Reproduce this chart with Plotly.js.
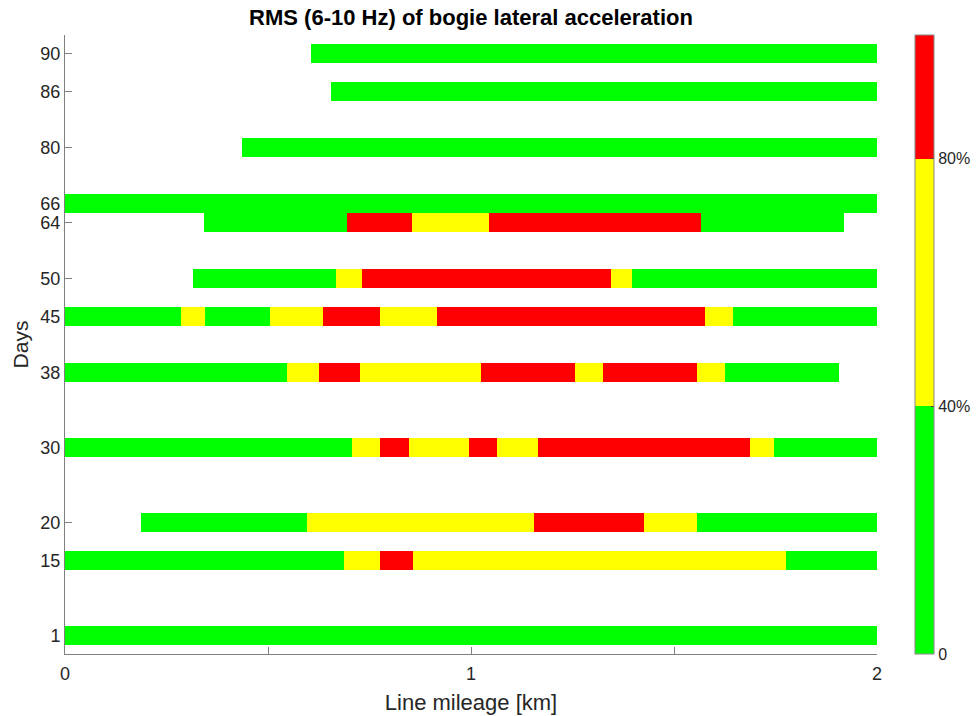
<!DOCTYPE html>
<html>
<head>
<meta charset="utf-8">
<script src="https://cdn.plot.ly/plotly-3.0.1.min.js"></script>
<style>html,body{margin:0;padding:0;background:#fff;}#chart{width:978px;height:716px;}</style>
</head>
<body>
<div id="chart"></div>
<script>
// Day labels (tick text) and their row slots on the y axis
const dayLabels = ['1', '15', '20', '30', '38', '45', '50', '64', '66', '80', '86', '90'];
const rowSlot   = [0, 4, 6, 10, 14, 17, 19, 22, 23, 26, 29, 31];

// Segment break points along line mileage [km] for each row (same order as dayLabels)
const rowBreaks = [
  [0, 2],                                                             // 1
  [0, 0.686, 0.776, 0.856, 1.776, 2],                                 // 15
  [0.187, 0.596, 1.155, 1.425, 1.556, 2],                             // 20
  [0, 0.706, 0.776, 0.847, 0.996, 1.065, 1.166, 1.686, 1.746, 2],     // 30
  [0, 0.546, 0.625, 0.726, 1.025, 1.257, 1.326, 1.556, 1.626, 1.906], // 38
  [0, 0.285, 0.346, 0.506, 0.635, 0.776, 0.916, 1.576, 1.646, 2],     // 45
  [0.315, 0.667, 0.731, 1.346, 1.396, 2],                             // 50
  [0.342, 0.695, 0.855, 1.044, 1.566, 1.918],                         // 64
  [0, 2],                                                             // 66
  [0.435, 2],                                                         // 80
  [0.656, 2],                                                         // 86
  [0.605, 2]                                                          // 90
];
// Level of each segment: 0 = below 40%, 1 = 40-80%, 2 = above 80%
const rowLevels = [
  [0],
  [0, 1, 2, 1, 0],
  [0, 1, 2, 1, 0],
  [0, 1, 2, 1, 2, 1, 2, 1, 0],
  [0, 1, 2, 1, 2, 1, 2, 1, 0],
  [0, 1, 0, 1, 2, 1, 2, 1, 0],
  [0, 1, 2, 1, 0],
  [0, 2, 1, 2, 0],
  [0],
  [0],
  [0],
  [0]
];

const levelColors = ['#00ff00', '#ffff00', '#ff0000'];
const levelNames = ['0-40%', '40-80%', '80-100%'];
const cbTickVals = [0, 40, 80];
const cbTickText = ['0', '40%', '80%'];

const traces = [];
for (let lv = 0; lv < 3; lv++) {
  const ys = [], bases = [], lens = [];
  rowBreaks.forEach((br, r) => {
    rowLevels[r].forEach((l, s) => {
      if (l === lv) {
        ys.push(rowSlot[r]);
        bases.push(br[s]);
        lens.push(br[s + 1] - br[s]);
      }
    });
  });
  traces.push({
    type: 'bar', orientation: 'h', name: levelNames[lv],
    y: ys, base: bases, x: lens, width: 1,
    marker: {color: levelColors[lv], line: {width: 0}},
    showlegend: false, hoverinfo: 'x+y'
  });
}

// colorbar carrier
traces.push({
  type: 'scatter', mode: 'markers', x: [null, null], y: [null, null],
  showlegend: false, hoverinfo: 'skip',
  marker: {
    color: [0, 100], cmin: 0, cmax: 100, size: 0.1,
    colorscale: [[0, '#00ff00'], [0.4, '#00ff00'], [0.4, '#ffff00'], [0.8, '#ffff00'], [0.8, '#ff0000'], [1, '#ff0000']],
    showscale: true,
    colorbar: {
      x: 1.0468, xanchor: 'left', xpad: 0, ypad: 0,
      y: 0.5, yanchor: 'middle', len: 1, lenmode: 'fraction',
      thickness: 19, outlinecolor: '#888', outlinewidth: 1,
      tickmode: 'array', tickvals: cbTickVals, ticktext: cbTickText,
      ticks: 'inside', ticklen: 3, tickcolor: '#444',
      tickfont: {family: 'Liberation Sans, Arial, sans-serif', size: 16, color: '#262626'}
    }
  }
});

const axisFont = {family: 'Liberation Sans, Arial, sans-serif', size: 18, color: '#262626'};

const layout = {
  width: 978, height: 716,
  margin: {l: 65, r: 101, t: 35, b: 62, pad: 0, autoexpand: false},
  paper_bgcolor: '#ffffff', plot_bgcolor: '#ffffff',
  barmode: 'overlay', bargap: 0,
  title: {
    text: '<b>RMS (6-10 Hz) of bogie lateral acceleration</b>',
    x: 0.5, xref: 'paper', xanchor: 'center',
    y: 0.976, yref: 'container', yanchor: 'middle',
    font: {family: 'Liberation Sans, Arial, sans-serif', size: 22, color: '#000000'}
  },
  xaxis: {
    range: [0, 2], autorange: false,
    tickmode: 'array', tickvals: [0, 0.5, 1, 1.5, 2], ticktext: ['0', '', '1', '', '2'],
    ticks: 'inside', ticklen: 7, tickcolor: '#808080', tickwidth: 1,
    showline: true, linecolor: '#808080', linewidth: 1, mirror: false,
    showgrid: false, zeroline: false, layer: 'below traces',
    tickfont: axisFont, automargin: false, ticklabelstandoff: 3,
    title: {text: 'Line mileage [km]', standoff: 12, font: {family: 'Liberation Sans, Arial, sans-serif', size: 22, color: '#262626'}}
  },
  yaxis: {
    range: [-1, 32], autorange: false,
    tickmode: 'array', tickvals: rowSlot, ticktext: dayLabels,
    ticks: 'inside', ticklen: 7, tickcolor: '#808080', tickwidth: 1,
    showline: true, linecolor: '#808080', linewidth: 1, mirror: false,
    showgrid: false, zeroline: false, layer: 'below traces',
    tickfont: axisFont, automargin: false,
    title: {text: 'Days', standoff: 6, font: {family: 'Liberation Sans, Arial, sans-serif', size: 21, color: '#262626'}}
  }
};

Plotly.newPlot('chart', traces, layout, {displayModeBar: false, staticPlot: true});
</script>
</body>
</html>
